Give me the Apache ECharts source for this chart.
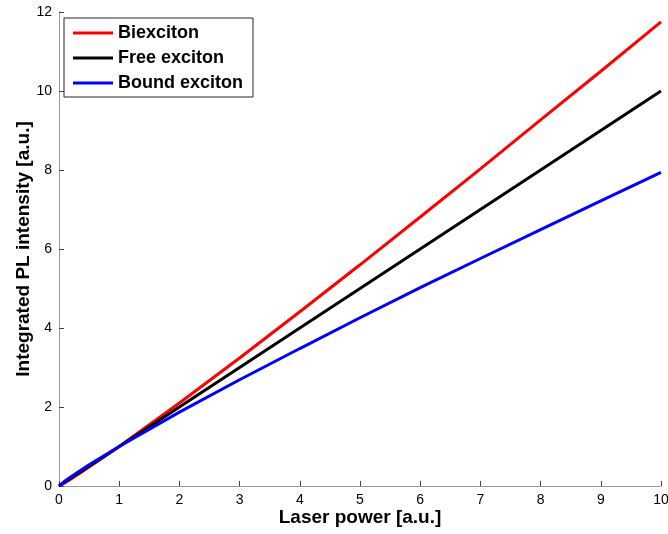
<!DOCTYPE html>
<html><head><meta charset="utf-8">
<script src="https://cdn.jsdelivr.net/npm/echarts@6/dist/echarts.min.js"></script>
<style>html,body{margin:0;padding:0;background:#fff}#c{width:668px;height:534px}</style>
</head><body><div id="c"></div>
<script>
const xs = [0, 0.1, 0.2, 0.3, 0.5, 1, 2, 3, 4, 5, 6, 7, 8, 9, 10];
const biexciton = [0, 0.085, 0.179, 0.276, 0.48, 1, 2.1, 3.24, 4.41, 5.6, 6.81, 8.03, 9.27, 10.5, 11.75];
const freeExciton = [0, 0.1, 0.2, 0.3, 0.5, 1, 2, 3, 4, 5, 6, 7, 8, 9, 10];
const boundExciton = [0, 0.126, 0.235, 0.338, 0.54, 1, 1.87, 2.69, 3.48, 4.26, 5.02, 5.76, 6.49, 7.22, 7.94];
const seriesNames = ['Biexciton', 'Free exciton', 'Bound exciton'];
const colors = ['#ff0000', '#000000', '#0000ff'];
const xTicks = [0,1,2,3,4,5,6,7,8,9,10];
const yTicks = [0,2,4,6,8,10,12];

const font = 'Liberation Sans, Arial, sans-serif';
const chart = echarts.init(document.getElementById('c'));
const mk = (vals, i) => ({
  name: seriesNames[i], type: 'line', showSymbol: false, smooth: false,
  data: xs.map((x, k) => [x, vals[k]]),
  lineStyle: {width: 3, color: colors[i]}, itemStyle: {color: colors[i]},
  animation: false
});
chart.setOption({
  animation: false,
  grid: {left: 59, right: 7, top: 12, bottom: 48, outerBoundsMode: 'none', containLabel: false},
  legend: {
    left: 64, top: 18, orient: 'vertical',
    data: seriesNames,
    backgroundColor: '#fff', borderColor: '#262626', borderWidth: 1,
    padding: [6, 10, 5, 9], itemGap: 7, itemWidth: 40, itemHeight: 3,
    icon: 'rect',
    textStyle: {fontFamily: font, fontSize: 18, fontWeight: 'bold', color: '#000'}
  },
  xAxis: {
    type: 'value', min: 0, max: 10, interval: 1,
    name: 'Laser power [a.u.]', nameLocation: 'middle', nameGap: 22, nameMoveOverlap: false,
    nameTextStyle: {fontFamily: font, fontSize: 19, fontWeight: 'bold', color: '#000'},
    axisLine: {lineStyle: {color: '#999', width: 1}},
    axisTick: {inside: true, length: 5, lineStyle: {color: '#444'}},
    axisLabel: {fontFamily: font, fontSize: 14, color: '#000', margin: 7, formatter: v => xTicks.includes(v) ? String(v) : ''},
    splitLine: {show: false}
  },
  yAxis: {
    type: 'value', min: 0, max: 12, interval: 2,
    name: 'Integrated PL intensity [a.u.]', nameLocation: 'middle', nameGap: 26, nameMoveOverlap: false,
    nameTextStyle: {fontFamily: font, fontSize: 19, fontWeight: 'bold', color: '#000'},
    axisLine: {show: true, lineStyle: {color: '#999', width: 1}},
    axisTick: {show: true, inside: true, length: 5, lineStyle: {color: '#444'}},
    axisLabel: {fontFamily: font, fontSize: 14, color: '#000', margin: 7, formatter: v => yTicks.includes(v) ? String(v) : ''},
    splitLine: {show: false}
  },
  series: [mk(biexciton, 0), mk(freeExciton, 1), mk(boundExciton, 2)]
});
</script></body></html>
